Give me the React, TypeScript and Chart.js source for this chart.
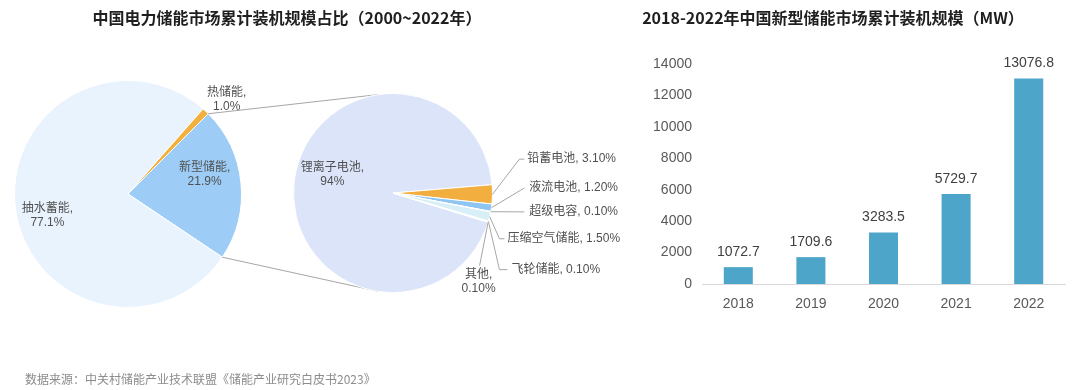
import React, { useEffect, useRef } from 'react';
import { Chart, registerables } from 'chart.js';

Chart.register(...registerables);

// ---------- data ----------
const mixCategories = ['新型储能', '抽水蓄能', '热储能'];
const mixValues = [21.9, 77.1, 1.0];

const newTypeCategories = ['锂离子电池', '铅蓄电池', '液流电池', '超级电容', '压缩空气储能', '飞轮储能', '其他'];
const newTypeValues = [94, 3.1, 1.2, 0.1, 1.5, 0.1, 0.1];

const years = ['2018', '2019', '2020', '2021', '2022'];
const capacityMW = [1072.7, 1709.6, 3283.5, 5729.7, 13076.8];

const yMin = 0;
const yMax = 14000;
const yStep = 2000;

// ---------- style / layout ----------
const FONT = '"Liberation Sans", "Noto Sans CJK SC", sans-serif';
const CJK = '"Noto Sans CJK SC", "Liberation Sans", sans-serif';

const mixColors = ['#9DCDF6', '#E9F3FD', '#F2B13F'];
const newTypeColors = ['#DBE4F8', '#F2AF3F', '#8FC5F1', '#C9E0F4', '#D8EFF8', '#E8F4FB', '#F1F6FC'];

type LabelLayout = { pos: [number, number]; align: CanvasTextAlign; split: boolean; leader?: [number, number][] };

// positions in units of pie radius, relative to pie centre
const mixLabelLayout: LabelLayout[] = [
  { pos: [0.675, -0.167], align: 'center', split: true },
  { pos: [-0.71, 0.195], align: 'center', split: true },
  { pos: [0.87, -0.83], align: 'center', split: true },
];

const newTypeLabelLayout: LabelLayout[] = [
  { pos: [-0.61, -0.18], align: 'center', split: true },
  { pos: [1.35, -0.34], align: 'left', split: false, leader: [[1.27, -0.34], [1.32, -0.34]] },
  { pos: [1.37, -0.05], align: 'left', split: false, leader: [[1.32, -0.05]] },
  { pos: [1.37, 0.19], align: 'left', split: false, leader: [[1.32, 0.19]] },
  { pos: [1.15, 0.46], align: 'left', split: false, leader: [[1.07, 0.46], [1.12, 0.46]] },
  { pos: [1.19, 0.77], align: 'left', split: false, leader: [[1.07, 0.77], [1.15, 0.77]] },
  { pos: [0.86, 0.89], align: 'center', split: true, leader: [[0.87, 0.73]] },
];

const fmtMix = (v: number) => `${v.toFixed(1)}%`;
const fmtNewType = (v: number) => (v >= 10 ? `${v}%` : `${v.toFixed(2)}%`);

function pieLabelPlugin(layout: LabelLayout[], categories: string[], values: number[], fmt: (v: number) => string) {
  return {
    id: 'pieLabels',
    afterDatasetsDraw(chart: any) {
      const meta = chart.getDatasetMeta(0);
      const ctx = chart.ctx as CanvasRenderingContext2D;
      ctx.save();
      ctx.font = `12px ${FONT}`;
      ctx.fillStyle = '#505050';
      ctx.strokeStyle = '#A6A6A6';
      ctx.lineWidth = 1;
      meta.data.forEach((arc: any, i: number) => {
        const L = layout[i];
        if (!L) return;
        const { x, y, outerRadius: r, startAngle, endAngle } = arc;
        const mid = (startAngle + endAngle) / 2;
        if (L.leader) {
          ctx.beginPath();
          ctx.moveTo(x + Math.cos(mid) * r, y + Math.sin(mid) * r);
          L.leader.forEach(([px, py]) => ctx.lineTo(x + px * r, y + py * r));
          ctx.stroke();
        }
        const lines = L.split
          ? [`${categories[i]},`, fmt(values[i])]
          : [`${categories[i]}, ${fmt(values[i])}`];
        ctx.textAlign = L.align;
        ctx.textBaseline = 'middle';
        const tx = x + L.pos[0] * r;
        const ty = y + L.pos[1] * r;
        lines.forEach((t, k) => ctx.fillText(t, tx, ty + (k - (lines.length - 1) / 2) * 14));
      });
      ctx.restore();
    },
  };
}

export default function App() {
  const mixRef = useRef<HTMLCanvasElement>(null);
  const newRef = useRef<HTMLCanvasElement>(null);
  const barRef = useRef<HTMLCanvasElement>(null);

  useEffect(() => {
    const primary = new Chart(mixRef.current!, {
      type: 'pie',
      data: {
        labels: mixCategories,
        datasets: [{ data: mixValues, backgroundColor: mixColors, borderColor: '#ffffff', borderWidth: 1, hoverOffset: 0 }],
      },
      options: {
        responsive: false,
        animation: false,
        events: [],
        rotation: 45,
        layout: { padding: { left: 14, top: 80, right: 398, bottom: 82 } },
        plugins: { legend: { display: false }, tooltip: { enabled: false } },
      },
      plugins: [pieLabelPlugin(mixLabelLayout, mixCategories, mixValues, fmtMix)],
    });

    const connector = {
      id: 'connector',
      beforeDatasetsDraw(chart: any) {
        const pa: any = primary.getDatasetMeta(0).data[0];
        const sa: any = chart.getDatasetMeta(0).data[0];
        if (!pa || !sa) return;
        const ctx = chart.ctx as CanvasRenderingContext2D;
        const tilt = 0.14;
        ctx.save();
        ctx.strokeStyle = '#A6A6A6';
        ctx.lineWidth = 1;
        ctx.beginPath();
        ctx.moveTo(pa.x + Math.cos(pa.startAngle) * pa.outerRadius, pa.y + Math.sin(pa.startAngle) * pa.outerRadius);
        ctx.lineTo(sa.x + Math.cos(-Math.PI / 2 - tilt) * sa.outerRadius, sa.y + Math.sin(-Math.PI / 2 - tilt) * sa.outerRadius);
        ctx.moveTo(pa.x + Math.cos(pa.endAngle) * pa.outerRadius, pa.y + Math.sin(pa.endAngle) * pa.outerRadius);
        ctx.lineTo(sa.x + Math.cos(Math.PI / 2 + tilt) * sa.outerRadius, sa.y + Math.sin(Math.PI / 2 + tilt) * sa.outerRadius);
        ctx.stroke();
        ctx.restore();
      },
    };

    const total = newTypeValues.reduce((a, b) => a + b, 0);
    const leadStartDeg = -4.8;
    const rot = leadStartDeg - (newTypeValues[0] / total) * 360 + 90;

    const secondary = new Chart(newRef.current!, {
      type: 'pie',
      data: {
        labels: newTypeCategories,
        datasets: [{ data: newTypeValues, backgroundColor: newTypeColors, borderColor: '#ffffff', borderWidth: 1, hoverOffset: 0 }],
      },
      options: {
        responsive: false,
        animation: false,
        events: [],
        rotation: rot,
        layout: { padding: { left: 293, top: 93, right: 147, bottom: 97 } },
        plugins: { legend: { display: false }, tooltip: { enabled: false } },
      },
      plugins: [connector, pieLabelPlugin(newTypeLabelLayout, newTypeCategories, newTypeValues, fmtNewType)],
    });

    const barValues = {
      id: 'barValues',
      afterDatasetsDraw(chart: any) {
        const ctx = chart.ctx as CanvasRenderingContext2D;
        const meta = chart.getDatasetMeta(0);
        ctx.save();
        ctx.font = `14px ${FONT}`;
        ctx.fillStyle = '#404040';
        ctx.textAlign = 'center';
        ctx.textBaseline = 'middle';
        meta.data.forEach((bar: any, i: number) => {
          ctx.fillText(capacityMW[i].toFixed(1), bar.x, bar.y - 15);
        });
        ctx.restore();
      },
    };

    const bar = new Chart(barRef.current!, {
      type: 'bar',
      data: {
        labels: years,
        datasets: [{ data: capacityMW, backgroundColor: '#4DA6C9', barPercentage: 0.4, categoryPercentage: 1 }],
      },
      options: {
        responsive: false,
        animation: false,
        events: [],
        layout: { padding: { left: 0, top: 24, right: 15, bottom: 0 } },
        plugins: { legend: { display: false }, tooltip: { enabled: false } },
        scales: {
          x: {
            grid: { display: false, drawTicks: false },
            border: { display: true, color: '#D9D9D9', width: 1 },
            ticks: { color: '#595959', font: { size: 14, family: FONT }, padding: 12 },
            afterFit: (s: any) => { s.height = 56; },
          },
          y: {
            min: yMin,
            max: yMax,
            grid: { display: false, drawTicks: false },
            border: { display: false },
            ticks: {
              stepSize: yStep,
              color: '#595959',
              font: { size: 14, family: FONT },
              padding: 10,
              callback: (v: any) => String(v),
            },
            afterFit: (s: any) => { s.width = 62; },
          },
        },
      },
      plugins: [barValues],
    });

    return () => {
      bar.destroy();
      secondary.destroy();
      primary.destroy();
    };
  }, []);

  const abs: React.CSSProperties = { position: 'absolute' };

  return (
    <div style={{ position: 'absolute', left: 0, top: 0, width: 1080, height: 390, background: '#ffffff', overflow: 'hidden' }}>
      <canvas ref={mixRef} width={640} height={390} style={{ ...abs, left: 0, top: 0 }} />
      <canvas ref={newRef} width={640} height={390} style={{ ...abs, left: 0, top: 0 }} />
      <canvas ref={barRef} width={440} height={300} style={{ ...abs, left: 640, top: 40 }} />
      <div style={{ ...abs, left: 87, top: 5, width: 400, textAlign: 'center', font: `bold 16px/24px ${CJK}`, color: '#1F1F1F', whiteSpace: 'nowrap' }}>
        中国电力储能市场累计装机规模占比（2000~2022年）
      </div>
      <div style={{ ...abs, left: 633, top: 5, width: 400, textAlign: 'center', font: `bold 16px/24px ${CJK}`, color: '#1F1F1F', whiteSpace: 'nowrap' }}>
        2018-2022年中国新型储能市场累计装机规模（MW）
      </div>
      <div style={{ ...abs, left: 25, top: 371, font: `12px/16px ${CJK}`, color: '#8C8C8C', whiteSpace: 'nowrap' }}>
        数据来源：中关村储能产业技术联盟《储能产业研究白皮书2023》
      </div>
    </div>
  );
}
